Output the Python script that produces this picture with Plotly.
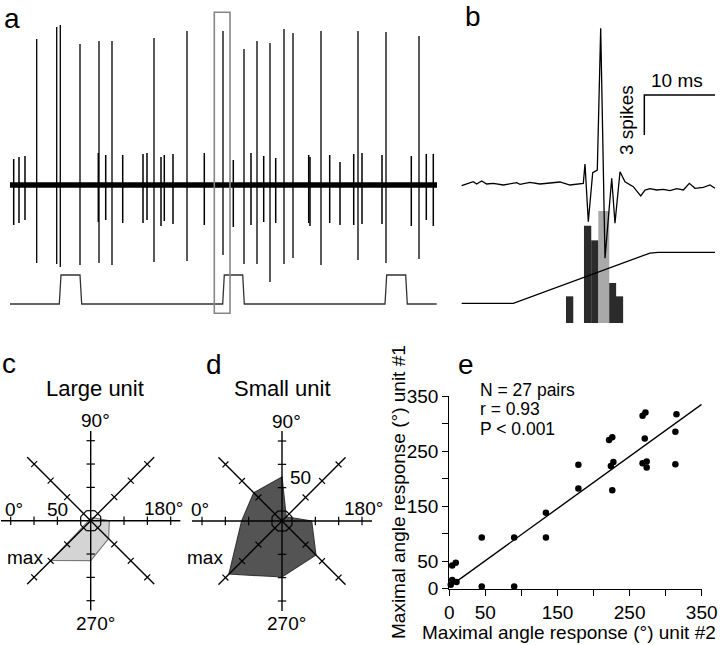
import plotly.graph_objects as go

W, H = 720, 645
FONT = "Liberation Sans, Arial, Helvetica, sans-serif"


def px(x):
    return x / W


def py(y):
    return 1 - y / H


# ---------------- Panel a : extracellular trace ----------------
large_t = [26.7, 46.7, 50.3, 70, 89, 102, 144, 177, 213, 234, 247, 260, 274, 283, 311, 348, 376, 409]
large_top = [146, 158, 160, 141, 144, 144, 147, 154, 154, 136, 144, 142, 156, 152, 154, 154, 153, 149]
large_bot = [-78, -79, -82, -80, -78, -80, -77, -76, -70, -79, -79, -97, -79, -73, -80, -75, -78, -74]

small_t = [3.7, 9, 15, 88.3, 95.7, 112.7, 133, 137, 151, 154.3, 163, 194.3, 223.3, 241, 253.7,
           265.7, 298.7, 300, 319.7, 330, 343.7, 352, 372, 401.3, 416.3, 423.3]
small_top = [26, 28, 29, 32, 30, 30, 31, 32, 28, 30, 31, 32, 25, 32, 29,
             27, 30, 28, 30, 23, 31, 32, 30, 29, 31, 31]
small_bot = [-40, -38, -35, -37, -35, -38, -38, -35, -41, -36, -39, -40, -42, -40, -37,
             -38, -38, -41, -38, -40, -40, -39, -39, -41, -35, -41]

trace_start, trace_end = 0, 427
stim_t = [0, 49.3, 51, 70, 71.7, 212.7, 214.3, 232.7, 234.3, 375, 376.7, 395.7, 397.3, 426.7]
stim_v = [0, 0, 1, 1, 0, 0, 1, 1, 0, 0, 1, 1, 0, 0]
window_t = [204.3, 220]

# ---------------- Panel b : spike waveform, histogram, ramp ----------------
wave_t = [-19.67, -18.49, -18.02, -17.54, -16.84, -16.13, -15.19, -13.77, -11.88, -11.41, -10.0,
          -8.59, -7.17, -5.76, -4.34, -3.16, -2.46,
          -2.22, -1.75, -1.13, -0.48, 0.0, 0.61, 1.56, 2.02, 2.73, 3.44, 4.61, 5.66, 6.27,
          6.97, 7.92, 8.86, 9.80, 10.75, 11.69, 12.54, 13.34, 14.52, 15.46, 16.17]
wave_v = [-2.4, 0, 1.7, -0.7, 2.3, -0.7, 0, -1.7, 0.7, -1, 1,
          -0.7, 0, 1.3, -1.7, -1, 0,
          19.3, -38.4, 10.6, 13.3, 155, -75, 5, -40, 11.6, 1.6, -3.4, -12.7, -6.7,
          -5.3, -6.7, -6, -7.3, -5.3, -6.7, 0, -5, -4, -1.7, -5]

hist_t = [-4.39, -1.85, -0.83, 1.67, 2.66]
hist_n = [2, 7.3, 6.2, 3, 2]
sel_t = [0.44]
sel_n = [8.4]

ramp_t = [-19.66, -12.36, 6.97, 8.15, 16.17]
ramp_v = [0, 0, 0.985, 1, 1]

scale_ms = 10
scale_spikes = 3

# ---------------- Panels c, d : direction tuning ----------------
dirs = [0, 45, 90, 135, 180, 225, 270, 315]
large_unit_r = [3, 3, 4.5, 6, 28, 38, 60, 84]
small_unit_r = [60.5, 60, 66, 9, 44.5, 72, 84, 112.5]
tick_r = [15, 50, 85, 120]
spoke_len = 135

# ---------------- Panel e : scatter ----------------
unit2 = [2, 4, 10, 4, 9, 45, 45, 90, 90, 134, 134, 179, 179, 221.5, 226, 224, 227.5, 226,
         268, 272, 271, 268, 273.7, 273.7, 315, 313.5, 313.5]
unit1 = [7, 16, 12, 42, 47, 93, 4, 93, 4, 138, 93, 225, 182, 270, 275, 223, 230, 179,
         314, 320, 273, 228, 231, 220, 317, 285, 226]
fit_x = [3, 350]
fit_y = [6.5, 335]
e_ticks = [0, 50, 100, 150, 200, 250, 300, 350]
e_ticktext = ["0", "50", "", "150", "", "250", "", "350"]

fig = go.Figure()

# ---- a ----
fig.add_trace(go.Scatter(x=[trace_start, trace_end], y=[0, 0], mode="lines",
                         line=dict(color="black", width=5.5), xaxis="x", yaxis="y"))
sx, sy = [], []
for t, a, b in zip(small_t, small_top, small_bot):
    sx += [t, t, None]
    sy += [a, b, None]
fig.add_trace(go.Scatter(x=sx, y=sy, mode="lines", line=dict(color="black", width=1.5),
                         xaxis="x", yaxis="y"))
lx, ly = [], []
for t, a, b in zip(large_t, large_top, large_bot):
    lx += [t, t, None]
    ly += [a, b, None]
fig.add_trace(go.Scatter(x=lx, y=ly, mode="lines", line=dict(color="black", width=1.3),
                         xaxis="x", yaxis="y"))
fig.add_trace(go.Scatter(x=stim_t, y=stim_v, mode="lines", line=dict(color="#333333", width=1.3),
                         xaxis="x", yaxis="y2"))
fig.add_shape(type="rect", xref="x", yref="paper", x0=window_t[0], x1=window_t[1],
              y0=py(313.3), y1=py(12.3), line=dict(color="#858585", width=1.6))

# ---- b ----
fig.add_trace(go.Bar(x=hist_t, y=hist_n, width=1.03, marker=dict(color="#2b2b2b", line=dict(width=0)),
                     xaxis="x2", yaxis="y3"))
fig.add_trace(go.Bar(x=sel_t, y=sel_n, width=1.55, marker=dict(color="#a9a9a9", line=dict(width=0)),
                     xaxis="x2", yaxis="y3"))
sb_t0, sb_n0 = 6.17, 14.1
fig.add_trace(go.Scatter(x=[sb_t0, sb_t0, sb_t0 + scale_ms],
                         y=[sb_n0, sb_n0 + scale_spikes, sb_n0 + scale_spikes],
                         mode="lines", line=dict(color="black", width=1.5), xaxis="x2", yaxis="y3"))
fig.add_trace(go.Scatter(x=ramp_t, y=ramp_v, mode="lines", line=dict(color="black", width=1.3),
                         xaxis="x2", yaxis="y4"))
fig.add_trace(go.Scatter(x=wave_t, y=wave_v, mode="lines", line=dict(color="black", width=1.3),
                         xaxis="x2", yaxis="y5"))

# ---- c, d ----
tick_angle = {0: 0, 180: 0, 90: 90, 270: 90, 45: 45, 225: 45, 135: -45, 315: -45}


def add_rose(values, polar, fill, edge):
    fig.add_trace(go.Scatterpolar(r=values + values[:1], theta=dirs + dirs[:1], mode="lines",
                                  fill="toself", fillcolor=fill, line=dict(color=edge, width=1.2),
                                  subplot=polar))
    rr, th = [], []
    for d in dirs[:4]:
        rr += [spoke_len, 0, spoke_len, None]
        th += [d, d, d + 180, None]
    fig.add_trace(go.Scatterpolar(r=rr, theta=th, mode="lines", line=dict(color="black", width=1.4),
                                  subplot=polar, cliponaxis=False))
    tr, tt, ta = [], [], []
    for d in dirs:
        for r in tick_r:
            tr.append(r)
            tt.append(d)
            ta.append(tick_angle[d])
    fig.add_trace(go.Scatterpolar(r=tr, theta=tt, mode="markers", subplot=polar, cliponaxis=False,
                                  marker=dict(symbol="line-ns", size=6, angle=ta,
                                              line=dict(color="black", width=1.2))))


add_rose(large_unit_r, "polar", "#d4d4d4", "#7a7a7a")
add_rose(small_unit_r, "polar2", "#545454", "#3a3a3a")

# ---- e ----
fig.add_trace(go.Scatter(x=fit_x, y=fit_y, mode="lines", line=dict(color="black", width=1.4),
                         xaxis="x3", yaxis="y6"))
fig.add_trace(go.Scatter(x=unit2, y=unit1, mode="markers", marker=dict(color="black", size=6.5),
                         xaxis="x3", yaxis="y6", cliponaxis=False))


def hidden(**kw):
    d = dict(visible=False, fixedrange=True)
    d.update(kw)
    return d


polar_common = dict(bgcolor="rgba(0,0,0,0)",
                    radialaxis=dict(range=[0, spoke_len], visible=False),
                    angularaxis=dict(rotation=180, direction="clockwise", visible=False))

e_axis = dict(showline=True, linecolor="black", linewidth=1.3, ticks="outside", ticklen=6,
              tickwidth=1.3, tickcolor="black", showgrid=False, zeroline=False,
              tickfont=dict(size=19, color="black", family=FONT), tickvals=e_ticks,
              ticktext=e_ticktext, range=[0, 350], fixedrange=True)

fig.update_layout(
    width=W, height=H, margin=dict(l=0, r=0, t=0, b=0, autoexpand=False),
    paper_bgcolor="white", plot_bgcolor="rgba(0,0,0,0)",
    showlegend=False, barmode="overlay",
    font=dict(family=FONT, size=19, color="black"),
    xaxis=hidden(domain=[px(10), px(437)], range=[0, 427], anchor="y"),
    yaxis=hidden(domain=[py(295), py(15)], range=[-110, 170], anchor="x"),
    yaxis2=hidden(domain=[py(309.8), py(269.2)], range=[-0.2, 1.2], anchor="x"),
    xaxis2=hidden(domain=[px(458), px(718)], range=[-20.18, 16.59], anchor="y3"),
    yaxis3=hidden(domain=[py(323), py(20)], range=[0, 22.73], anchor="x2"),
    yaxis4=hidden(domain=[py(315), py(240)], range=[-0.229, 1.241], anchor="x2"),
    yaxis5=hidden(domain=[py(280), py(20)], range=[-96.7, 163.3], anchor="x2"),
    xaxis3=dict(domain=[px(449.3), px(701.7)], anchor="y6", **e_axis),
    yaxis6=dict(domain=[py(588.7), py(396)], anchor="x3", **e_axis),
    polar=dict(domain=dict(x=[px(0.7), px(180.7)], y=[py(610.7), py(430.7)]), **polar_common),
    polar2=dict(domain=dict(x=[px(192), px(372)], y=[py(611), py(431)]), **polar_common),
)


def ann(text, x, y, size=19, angle=0, xanchor="center"):
    fig.add_annotation(text=text, x=px(x), y=py(y), xref="paper", yref="paper", showarrow=False,
                       font=dict(size=size, family=FONT, color="black"), textangle=angle,
                       xanchor=xanchor, yanchor="middle", borderpad=0)


# panel letters
ann("a", 12, 19, 28)
ann("b", 473, 16, 28)
ann("c", 9, 363, 28)
ann("d", 214, 364, 28)
ann("e", 466, 364, 28)

# b labels
ann("10 ms", 677, 81)
ann("3 spikes", 626, 120, angle=-90)

# c labels
ann("Large unit", 95, 388, 22)
ann("90°", 95, 420)
ann("270°", 95, 623)
ann("0°", 14, 509)
ann("180°", 163, 508)
ann("50", 57, 509)
ann("max", 25, 557)

# d labels
ann("Small unit", 282, 388, 22)
ann("90°", 286, 421)
ann("270°", 286, 623)
ann("0°", 200, 509)
ann("180°", 363, 508)
ann("50", 300, 477)
ann("max", 205, 557)

# e labels
ann("N = 27 pairs", 479, 389.5, 17.5, xanchor="left")
ann("r = 0.93", 479, 409, 17.5, xanchor="left")
ann("P < 0.001", 479, 428.5, 17.5, xanchor="left")
ann("Maximal angle response (°) unit #2", 569, 632)
ann("Maximal angle response (°) unit #1", 398, 492, angle=-90)

fig.write_html(
    "out.html",
    config={"displayModeBar": False},
    post_script="document.body.style.margin='0px';document.body.style.overflow='hidden';",
)
